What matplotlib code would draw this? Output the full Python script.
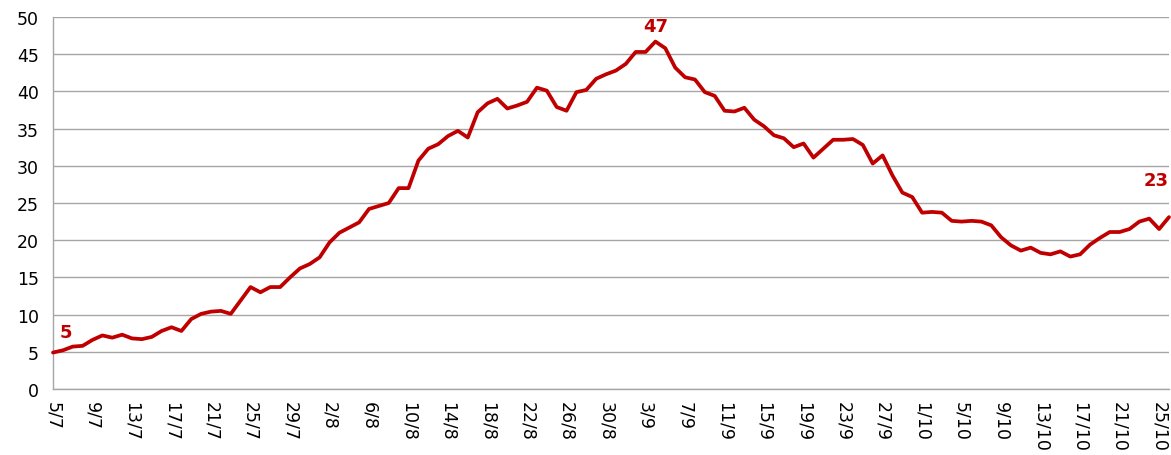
import matplotlib
matplotlib.use("Agg")
import matplotlib.pyplot as plt
import pandas as pd

# =============================
# DATA (daily values, 5/7 .. 26/10)
# =============================
start_date = "2020-07-05"
values = [
    4.9, 5.2, 5.7, 5.8, 6.6, 7.2, 6.9, 7.3, 6.8, 6.7,
    7.0, 7.8, 8.3, 7.8, 9.4, 10.1, 10.4, 10.5, 10.1, 11.9,
    13.7, 13.0, 13.7, 13.7, 15.0, 16.2, 16.8, 17.7, 19.7, 21.0,
    21.7, 22.4, 24.2, 24.6, 25.0, 27.0, 27.0, 30.7, 32.3, 32.9,
    34.0, 34.7, 33.8, 37.2, 38.4, 39.0, 37.7, 38.1, 38.6, 40.5,
    40.1, 37.9, 37.4, 39.9, 40.2, 41.7, 42.3, 42.8, 43.7, 45.3,
    45.3, 46.7, 45.8, 43.2, 41.9, 41.6, 39.9, 39.4, 37.4, 37.3,
    37.8, 36.2, 35.3, 34.1, 33.7, 32.5, 33.0, 31.1, 32.3, 33.5,
    33.5, 33.6, 32.8, 30.3, 31.4, 28.7, 26.4, 25.8, 23.7, 23.8,
    23.7, 22.6, 22.5, 22.6, 22.5, 22.0, 20.4, 19.3, 18.6, 19.0,
    18.3, 18.1, 18.5, 17.8, 18.1, 19.4, 20.3, 21.1, 21.1, 21.5,
    22.5, 22.9, 21.5, 23.1,
]
label_points = [1, 61, 113]
label_texts = ["5", "47", "23"]
# label offsets in points (dx, dy) from the data point to the text centre
label_offsets = [(2, 13), (0, 11), (-9, 27)]

dates = pd.date_range(start_date, periods=len(values), freq="D")
x = list(range(len(values)))
tick_idx = x[::4]
tick_labels = [f"{dates[i].day}/{dates[i].month}" for i in tick_idx]

RED = "#C00000"
GRID = "#A6A6A6"

# =============================
# PLOT
# =============================
fig = plt.figure(figsize=(11.71, 4.56), dpi=100)
ax = fig.add_axes([53 / 1171, 1 - 390 / 456, (1169 - 53) / 1171, (390 - 18) / 456])

ax.plot(x, values, color=RED, linewidth=2.7, solid_joinstyle="round",
        solid_capstyle="round", clip_on=False, zorder=3)

for i, t, off in zip(label_points, label_texts, label_offsets):
    ax.annotate(t, (i, values[i]), xytext=off, textcoords="offset points",
                ha="center", va="center", color=RED, fontsize=13,
                fontweight="bold", annotation_clip=False)

ax.set_xlim(0, len(values) - 1)
ax.set_ylim(0, 50)
ax.set_yticks(range(0, 51, 5))
ax.set_xticks(tick_idx)
ax.set_xticklabels(tick_labels, rotation=-90)
ax.tick_params(axis="both", length=0, labelsize=12.5, colors="black")
ax.tick_params(axis="y", pad=10)
ax.tick_params(axis="x", pad=9)

ax.grid(axis="y", color=GRID, linewidth=1)
ax.set_axisbelow(True)
for side in ["top", "right"]:
    ax.spines[side].set_visible(False)
for side in ["left", "bottom"]:
    ax.spines[side].set_color(GRID)
    ax.spines[side].set_linewidth(1)

fig.savefig("out.png", dpi=100)
